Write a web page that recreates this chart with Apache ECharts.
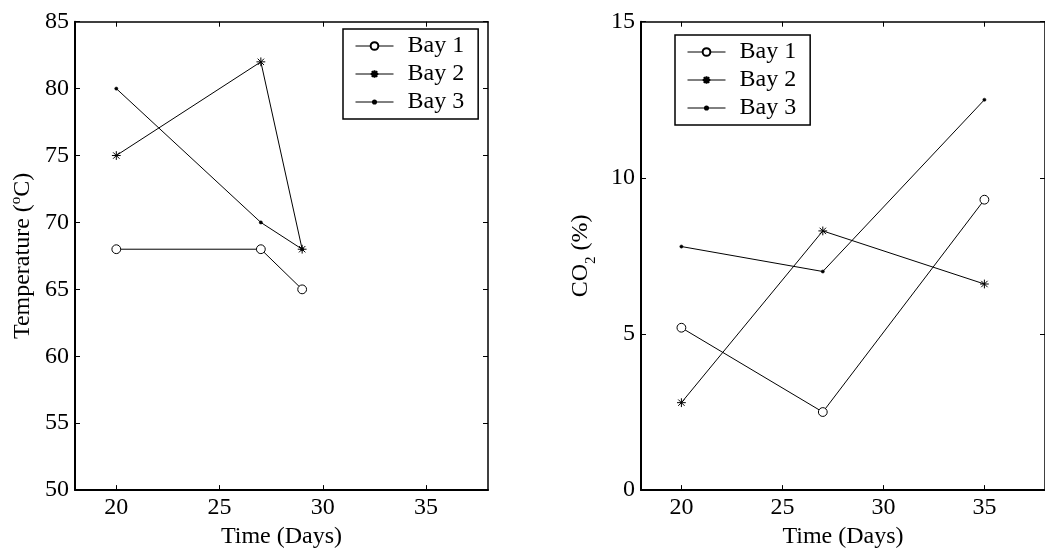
<!DOCTYPE html>
<html>
<head>
<meta charset="utf-8">
<script src="https://cdn.jsdelivr.net/npm/echarts@6/dist/echarts.min.js"></script>
<style>
html,body{margin:0;padding:0;background:#fff;}
#c{width:1045px;height:554px;}
</style>
</head>
<body>
<div id="c"></div>
<script>
// ---- data ----
const seriesNames = ['Bay 1', 'Bay 2', 'Bay 3'];
const tempDays = [20, 27, 29];
const tempBay1 = [68, 68, 65];
const tempBay2 = [75, 82, 68];
const tempBay3 = [80, 70, 68];
const co2Days = [20, 27, 35];
const co2Bay1 = [5.2, 2.5, 9.3];
const co2Bay2 = [2.8, 8.3, 6.6];
const co2Bay3 = [7.8, 7.0, 12.5];
const xTicks = [20, 25, 30, 35];
const tempTicks = [50, 55, 60, 65, 70, 75, 80, 85];
const co2Ticks = [0, 5, 10, 15];
const xLabel = 'Time (Days)';

// ---- styling ----
const FONT = "'Liberation Serif', 'Times New Roman', Times, serif";
// all marker paths share the same bounding box (-5..5) so that series and legend scale alike
const BOX = 'M-5,-5 M5,5 ';
const CIRCLE = 'path://' + BOX + 'M-4,0 A4,4 0 1,0 4,0 A4,4 0 1,0 -4,0 Z';
const STAR = 'path://' + BOX + 'M0,-4 L0,4 M-4,0 L4,0 M-2.9,-2.9 L2.9,2.9 M-2.9,2.9 L2.9,-2.9';
const DOT = 'path://' + BOX + 'M-1.6,0 A1.6,1.6 0 1,0 1.6,0 A1.6,1.6 0 1,0 -1.6,0 Z';
const markers = [
  {symbol: CIRCLE, symbolSize: 11, itemStyle: {color: '#fff', borderColor: '#000', borderWidth: 1}},
  {symbol: STAR, symbolSize: 11, itemStyle: {color: '#000', borderColor: '#000', borderWidth: 1}},
  {symbol: DOT, symbolSize: 10, itemStyle: {color: '#000', borderColor: '#000', borderWidth: 0.5}}
];

function pairs(xs, ys) { return xs.map((x, i) => [x, ys[i]]); }

function mkSeries(xIdx, yIdx, xs, ysList) {
  return ysList.map((ys, i) => Object.assign({
    type: 'line',
    name: seriesNames[i],
    xAxisIndex: xIdx,
    yAxisIndex: yIdx,
    data: pairs(xs, ys),
    showAllSymbol: true,
    lineStyle: {color: '#000', width: 1},
    emphasis: {disabled: true},
    animation: false,
    z: 3
  }, markers[i]));
}

const labelStyle = {fontFamily: FONT, fontSize: 24, color: '#000'};

function xAxes(grid) {
  return [
    {gridIndex: grid, type: 'value', position: 'bottom', min: 18, max: 38,
     axisLine: {show: true, onZero: false, lineStyle: {color: '#000', width: 2}},
     axisTick: {show: true, inside: true, length: 5, customValues: xTicks, lineStyle: {color: '#000', width: 1}},
     axisLabel: Object.assign({show: true, margin: 6, customValues: xTicks}, labelStyle),
     splitLine: {show: false},
     name: xLabel, nameLocation: 'middle', nameGap: 21,
     nameTextStyle: labelStyle},
    {gridIndex: grid, type: 'value', position: 'top', min: 18, max: 38,
     axisLine: {show: true, onZero: false, lineStyle: {color: '#000', width: 1.5}},
     axisTick: {show: true, inside: true, length: 5, customValues: xTicks, lineStyle: {color: '#000', width: 1}},
     axisLabel: {show: false},
     splitLine: {show: false}}
  ];
}

function yAxes(grid, min, max, ticks, name, rich, gap) {
  return [
    {gridIndex: grid, type: 'value', position: 'left', min: min, max: max, interval: 5,
     axisLine: {show: true, onZero: false, lineStyle: {color: '#000', width: 2}},
     axisTick: {show: true, inside: true, length: 5, lineStyle: {color: '#000', width: 1}},
     axisLabel: Object.assign({show: true, margin: 6}, labelStyle),
     splitLine: {show: false},
     name: name, nameLocation: 'middle', nameGap: gap, nameRotate: 90,
     nameTextStyle: {fontFamily: FONT, fontSize: 24, color: '#000', rich: rich}},
    {gridIndex: grid, type: 'value', position: 'right', min: min, max: max, interval: 5,
     axisLine: {show: true, onZero: false, lineStyle: {color: '#000', width: 1.5}},
     axisTick: {show: true, inside: true, length: 5, lineStyle: {color: '#000', width: 1}},
     axisLabel: {show: false},
     splitLine: {show: false}}
  ];
}

const richTemp = {
  a: {fontFamily: FONT, fontSize: 24, color: '#000', lineHeight: 28},
  s: {fontFamily: FONT, fontSize: 15, color: '#000', lineHeight: 15, verticalAlign: 'top'}
};
const richCo2 = {
  a: {fontFamily: FONT, fontSize: 24, color: '#000', lineHeight: 28},
  b: {fontFamily: FONT, fontSize: 15, color: '#000', lineHeight: 15, verticalAlign: 'bottom', padding: [0, 0, -4, 0]}
};

function legend(left, top) {
  return {
    left: left, top: top, orient: 'vertical',
    data: seriesNames,
    backgroundColor: '#fff',
    borderColor: '#000', borderWidth: 1.5,
    padding: [5, 14, 5, 12],
    itemWidth: 38, itemHeight: 12, itemGap: 4,
    selectedMode: false,
    lineStyle: {width: 1, color: '#000'},
    textStyle: {fontFamily: FONT, fontSize: 24, color: '#000', lineHeight: 24, padding: [0, 0, 0, 9]}
  };
}

const option = {
  backgroundColor: '#fff',
  animation: false,
  textStyle: {fontFamily: FONT},
  grid: [
    {left: 75, top: 21.7, width: 413, height: 476},
    {left: 641, top: 21.7, width: 413, height: 476}
  ],
  xAxis: [].concat(xAxes(0), xAxes(1)),
  yAxis: [].concat(
    yAxes(0, 50, 85, tempTicks, '{a|Temperature (}{s|o}{a|C)}', richTemp, 38),
    yAxes(1, 0, 15, co2Ticks, '{a|CO}{b|2}{a| (%)}', richCo2, 46)
  ),
  legend: [legend(343, 29), legend(675, 35)],
  series: [].concat(
    mkSeries(0, 0, tempDays, [tempBay1, tempBay2, tempBay3]),
    mkSeries(2, 2, co2Days, [co2Bay1, co2Bay2, co2Bay3])
  )
};

const chart = echarts.init(document.getElementById('c'), null, {renderer: 'canvas'});
chart.setOption(option);
</script>
</body>
</html>
